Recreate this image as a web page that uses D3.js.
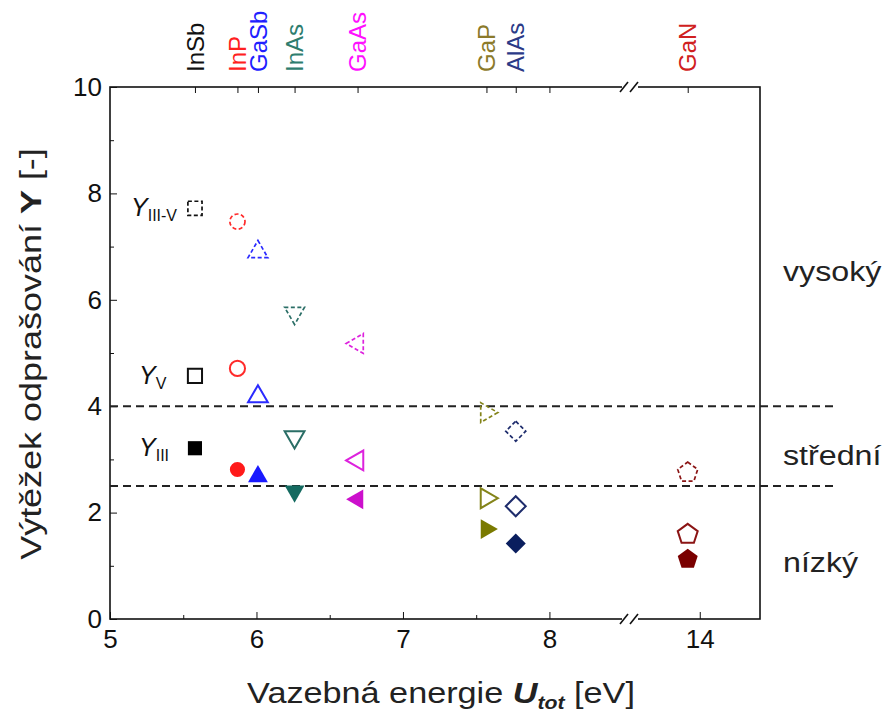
<!DOCTYPE html>
<html lang="cs">
<head>
<meta charset="utf-8">
<script src="https://d3js.org/d3.v7.min.js"></script>
<style>
body { margin: 0; background: #fff; font-family: "Liberation Sans", Arial, sans-serif; }
.axis text { font-family: "Liberation Sans", Arial, sans-serif; fill: #111; }
.axis path, .axis line { stroke: #111; }
</style>
</head>
<body>
<script>
// compounds and their total binding energy U_tot [eV]
var compounds = ["InSb", "InP", "GaSb", "InAs", "GaAs", "GaP", "AlAs", "GaN"];
var utot = [5.58, 5.87, 6.01, 6.26, 6.69, 7.57, 7.77, 13.92];

// sputtering yields
var yIIIV = [7.72, 7.47, 6.90, 5.75, 5.18, 3.88, 3.53, 2.77];  // dashed open
var yV    = [4.57, 4.71, 4.18, 3.42, 2.98, 2.27, 2.12, 1.61];  // solid open
var yIII  = [3.21, 2.81, 2.68, 2.40, 2.25, 1.69, 1.42, 1.14];  // filled

var shapes = ["square", "circle", "up", "down", "left", "right", "diamond", "pentagon"];
var markerColors = ["#111111", "#ff2a2a", "#2a2aff", "#2a6e66", "#dd22dd", "#84841a", "#1e2c6c", "#8b1414"];
var fillColors   = ["#000000", "#ff1a1a", "#1a1aff", "#146a60", "#cc10cc", "#7a7a00", "#0a1e5e", "#7a0000"];
var labelColors  = ["#111111", "#ff2020", "#2020ff", "#2e7d6e", "#ff10ff", "#8b7a2a", "#2b3a87", "#d02020"];

var xMajor = [5, 6, 7, 8, 14];
var xMinor = [5.5, 6.5, 7.5];
var yMajor = [0, 2, 4, 6, 8, 10];
var yMinor = [1, 3, 5, 7, 9];
var levels = [4, 2.5];
var levelNames = [{t: "vysoký", v: 6.35}, {t: "střední", v: 2.9}, {t: "nízký", v: 0.88}];

var width = 893, height = 715;
var pLeft = 110, pRight = 760, pTop = 87, pBottom = 619;

var svg = d3.select("body").append("svg")
  .attr("width", width)
  .attr("height", height);

// broken x axis: 5..8.55 | 13.55..14.4
var x = d3.scaleLinear()
  .domain([5, 8.55, 13.55, 14.4])
  .range([pLeft, 630, 632, pRight]);
var y = d3.scaleLinear().domain([0, 10]).range([pBottom, pTop]);

// frame
svg.append("rect")
  .attr("x", pLeft).attr("y", pTop)
  .attr("width", pRight - pLeft).attr("height", pBottom - pTop)
  .attr("fill", "none").attr("stroke", "#111").attr("stroke-width", 1.6);

// bottom axis
var xAxis = svg.append("g").attr("class", "axis")
  .attr("transform", "translate(0," + pBottom + ")")
  .call(d3.axisBottom(x).tickValues(xMajor).tickSize(-7).tickPadding(11).tickSizeOuter(0));
xAxis.select(".domain").remove();
xAxis.selectAll("text").style("font-size", "26px");
svg.append("g").attr("class", "axis")
  .attr("transform", "translate(0," + pBottom + ")")
  .call(d3.axisBottom(x).tickValues(xMinor).tickSize(-4).tickFormat("").tickSizeOuter(0))
  .select(".domain").remove();

// left axis
var yAxis = svg.append("g").attr("class", "axis")
  .attr("transform", "translate(" + pLeft + ",0)")
  .call(d3.axisLeft(y).tickValues(yMajor).tickSize(-7).tickPadding(8).tickSizeOuter(0));
yAxis.select(".domain").remove();
yAxis.selectAll("text").style("font-size", "26px");
svg.append("g").attr("class", "axis")
  .attr("transform", "translate(" + pLeft + ",0)")
  .call(d3.axisLeft(y).tickValues(yMinor).tickSize(-4).tickFormat("").tickSizeOuter(0))
  .select(".domain").remove();

// top axis, ticks at the compounds
var tAxis = svg.append("g").attr("class", "axis")
  .attr("transform", "translate(0," + pTop + ")")
  .call(d3.axisTop(x).tickValues(utot.concat([8])).tickSize(-6).tickFormat("").tickSizeOuter(0));
tAxis.select(".domain").remove();

// axis break marks
[pTop, pBottom].forEach(function(yy) {
  svg.append("rect").attr("x", 622).attr("y", yy - 3).attr("width", 16).attr("height", 6).attr("fill", "#fff");
  [624, 634].forEach(function(xx) {
    svg.append("line")
      .attr("x1", xx - 4).attr("y1", yy + 5)
      .attr("x2", xx + 4).attr("y2", yy - 5)
      .attr("stroke", "#111").attr("stroke-width", 1.6);
  });
});

// top compound labels
svg.selectAll(".clabel")
  .data(compounds)
  .enter().append("text")
  .attr("class", "clabel")
  .attr("transform", function(d, i) { return "translate(" + x(utot[i]) + ",72) rotate(-90)"; })
  .attr("dy", "0.36em")
  .style("font-size", "24px")
  .style("fill", function(d, i) { return labelColors[i]; })
  .text(function(d) { return d; });

// level lines
svg.selectAll(".level")
  .data(levels)
  .enter().append("line")
  .attr("x1", pLeft).attr("x2", 835)
  .attr("y1", function(d) { return y(d); })
  .attr("y2", function(d) { return y(d); })
  .attr("stroke", "#222").attr("stroke-width", 2)
  .attr("stroke-dasharray", "8,5");

svg.selectAll(".lname")
  .data(levelNames)
  .enter().append("text")
  .attr("transform", function(d) { return "translate(783," + y(d.v) + ") scale(1.15,1)"; })
  .style("font-size", "28px")
  .style("fill", "#222")
  .text(function(d) { return d.t; });

// marker shapes
function markerPath(shape) {
  if (shape === "square") return d3.symbol(d3.symbolSquare, 200)();
  if (shape === "circle") return d3.symbol(d3.symbolCircle, 180)();
  if (shape === "diamond") return d3.symbol(d3.symbolSquare, 200)();
  if (shape === "pentagon") {
    var r = 10.5, pts = [];
    for (var k = 0; k < 5; k++) {
      var a = -Math.PI / 2 + k * 2 * Math.PI / 5;
      pts.push([r * Math.cos(a), r * Math.sin(a) + 1]);
    }
    return "M" + pts.join("L") + "Z";
  }
  return d3.symbol(d3.symbolTriangle, 170)();
}
function markerRotate(shape) {
  return {down: 180, left: -90, right: 90, diamond: 45}[shape] || 0;
}

var series = [
  {vals: yIIIV, kind: "dashed"},
  {vals: yV, kind: "open"},
  {vals: yIII, kind: "filled"}
];

series.forEach(function(s) {
  svg.selectAll(null)
    .data(compounds)
    .enter().append("path")
    .attr("d", function(d, i) { return markerPath(shapes[i]); })
    .attr("transform", function(d, i) {
      return "translate(" + x(utot[i]) + "," + y(s.vals[i]) + ") rotate(" + markerRotate(shapes[i]) + ")";
    })
    .attr("fill", function(d, i) { return s.kind === "filled" ? fillColors[i] : "none"; })
    .attr("stroke", function(d, i) { return s.kind === "filled" ? "none" : markerColors[i]; })
    .attr("stroke-width", s.kind === "dashed" ? 1.7 : 2)
    .attr("stroke-dasharray", s.kind === "dashed" ? "4,2.5" : null);
});

// series annotations next to InSb
var notes = [{sub: "III-V", v: yIIIV[0], x: 131}, {sub: "V", v: yV[0], x: 139}, {sub: "III", v: yIII[0], x: 139}];
notes.forEach(function(n) {
  var t = svg.append("text")
    .attr("x", n.x).attr("y", y(n.v) + 8)
    .style("font-size", "25px").style("fill", "#111");
  t.append("tspan").style("font-style", "italic").text("Y");
  t.append("tspan").attr("dy", 5).style("font-size", "16px").text(n.sub);
});

// x title
var xt = svg.append("text")
  .attr("transform", "translate(441,703) scale(1.18,1)")
  .attr("text-anchor", "middle")
  .style("font-size", "29px").style("fill", "#222");
xt.append("tspan").text("Vazebná energie ");
xt.append("tspan").style("font-weight", "bold").style("font-style", "italic").text("U");
xt.append("tspan").attr("dy", 6).style("font-weight", "bold").style("font-style", "italic").style("font-size", "18px").text("tot");
xt.append("tspan").attr("dy", -6).text(" [eV]");

// y title
var yt = svg.append("text")
  .attr("transform", "translate(41,354) rotate(-90) scale(1.24,1)")
  .attr("text-anchor", "middle")
  .style("font-size", "29px").style("fill", "#222");
yt.append("tspan").text("Výtěžek odprašování  ");
yt.append("tspan").style("font-weight", "bold").text("Y");
yt.append("tspan").text(" [-]");
</script>
</body>
</html>
